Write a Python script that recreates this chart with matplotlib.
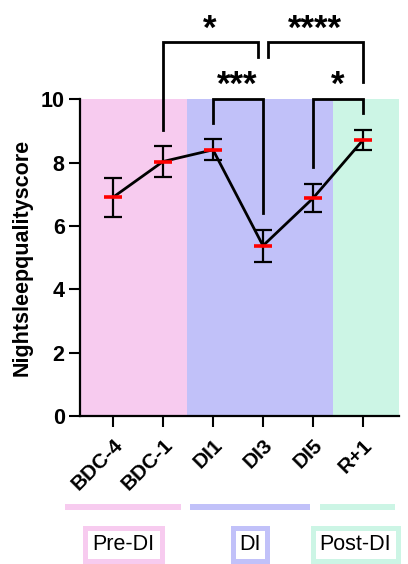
import matplotlib
matplotlib.use("Agg")
import matplotlib.pyplot as plt
from matplotlib.patches import Rectangle

plt.rcParams['font.family'] = ['Liberation Sans', 'DejaVu Sans']

# Data
categories = ["BDC-4", "BDC-1", "DI1", "DI3", "DI5", "R+1"]
means = [6.91, 8.04, 8.41, 5.38, 6.88, 8.72]
errors = [0.61, 0.48, 0.33, 0.50, 0.45, 0.32]
yticks = [0, 2, 4, 6, 8, 10]
phases = ["Pre-DI", "DI", "Post-DI"]
phase_colors = ["#F7CBEF", "#C1C1F9", "#CCF5E5"]
comparisons = [(1, 3, "*"), (3, 5, "****"), (2, 3, "***"), (4, 5, "*")]

W, H = 408, 564
fig = plt.figure(figsize=(W / 100, H / 100), dpi=100)
ax = fig.add_axes([80 / W, (H - 416) / H, 319 / W, 316.5 / H])

x = list(range(len(categories)))

# phase background bands
edges = [-0.66, 1.48, 4.4, 5.72]
for i, c in enumerate(phase_colors):
    ax.axvspan(edges[i], edges[i + 1], ymin=0, ymax=1, color=c, lw=0, zorder=0)

ax.plot(x, means, color="black", lw=2, zorder=3)
ax.errorbar(x, means, yerr=errors, fmt="none", ecolor="black", elinewidth=1.6,
            capsize=6.5, capthick=1.6, zorder=4)
ax.plot(x, means, ls="none", marker="_", ms=13.5, mew=2.6, color="red", zorder=5)

ax.set_xlim(edges[0], edges[-1])
ax.set_ylim(0, 10)
for s in ["top", "right"]:
    ax.spines[s].set_visible(False)
for s in ["left", "bottom"]:
    ax.spines[s].set_linewidth(1.6)
ax.set_yticks(yticks)
ax.set_yticklabels([str(v) for v in yticks], fontsize=15.5, fontweight="bold")
ax.set_xticks(x)
ax.set_xticklabels(categories, fontsize=15, fontweight="bold", rotation=45,
                   ha="right", rotation_mode="anchor")
ax.tick_params(axis="both", length=8, width=1.5, direction="out", pad=3)
ax.tick_params(axis="x", pad=6)
ax.set_ylabel("Nightsleepqualityscore", fontsize=15.5, fontweight="bold", labelpad=6)

# significance brackets: (bar height, left leg end, right leg end, label x, label baseline)
bracket_geom = [
    (11.83, 9.04, 11.34, 1.94, 11.93),
    (11.83, 11.34, 10.55, 4.04, 11.93),
    (10.02, 9.26, 6.41, 2.48, 10.15),
    (10.02, 7.87, 9.57, 4.50, 10.15),
]
bracket_x = [(1.0, 2.9), (3.1, 5.0), (2.0, 3.0), (4.0, 5.0)]
for (i, j, lab), (yb, yl, yr, tx, ty), (x0, x1) in zip(comparisons, bracket_geom, bracket_x):
    ax.plot([x0, x0, x1, x1], [yl, yb, yb, yr], color="black", lw=2,
            clip_on=False, zorder=6, solid_joinstyle="miter")
    ax.text(tx, ty, lab, ha="center", va="baseline", fontsize=25,
            fontweight="bold", clip_on=False)

# phase bars under the axis
bars_px = [(65, 181), (190, 310), (320, 395)]
for (x0, x1), c in zip(bars_px, phase_colors):
    fig.add_artist(Rectangle((x0 / W, (H - 510) / H), (x1 - x0) / W, 6 / H,
                             transform=fig.transFigure, color=c, lw=0))

# phase legend boxes
boxes_px = [(82, 164), (230, 269), (310, 400)]
for (x0, x1), c, name in zip(boxes_px, phase_colors, phases):
    fig.add_artist(Rectangle(((x0 + 2.5) / W, (H - 561) / H), (x1 - x0 - 5) / W, 33 / H,
                             transform=fig.transFigure, facecolor="white",
                             edgecolor=c, lw=3.6))
    fig.text((x0 + x1) / 2 / W, (H - 544.5) / H, name, ha="center", va="center",
             fontsize=15.5)

fig.savefig("out.png", dpi=100)
